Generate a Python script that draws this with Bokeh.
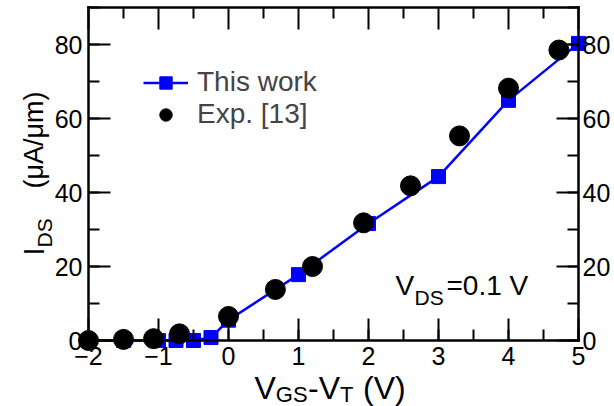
import numpy as np
from bokeh.plotting import figure
from bokeh.models import (Range1d, LinearAxis, SingleIntervalTicker, FixedTicker,
                          Label, Legend, LegendItem)
from bokeh.embed import file_html
from bokeh.resources import INLINE

# ---------------- data ----------------
work_x = [-2, -1.5, -1, -0.75, -0.5, -0.25, 0, 1, 2, 3, 4, 5]
work_y = [0, 0, 0, 0, 0, 0.8, 5.5, 17.8, 31.6, 44.3, 64.9, 80.3]
exp_x = [-2, -1.5, -1.07, -0.7, 0, 0.67, 1.2, 1.93, 2.6, 3.3, 4.0, 4.72]
exp_y = [0, 0.3, 0.5, 1.8, 6.5, 13.8, 20, 31.8, 41.8, 55.3, 68.2, 78.5]
x_ticks = [-2, -1, 0, 1, 2, 3, 4, 5]
y_ticks = [0, 20, 40, 60, 80]
series_names = ["This work", "Exp. [13]"]

X_MIN, X_MAX = -2, 5
Y_MIN, Y_MAX = 0, 90

FONT = "Liberation Sans"
BLUE = "#0000ff"

# canvas layout: the plotting box occupies pixels 88..578 (x) and 7..340 (y)
W, H = 614, 406
BOX_L, BOX_R, BOX_T, BOX_B = 88, 578, 7, 340
px_x = (BOX_R - BOX_L) / (X_MAX - X_MIN)
px_y = (BOX_B - BOX_T) / (Y_MAX - Y_MIN)
x_range = Range1d(X_MIN - BOX_L / px_x, X_MAX + (W - BOX_R) / px_x)
y_range = Range1d(Y_MIN - (H - BOX_B) / px_y, Y_MAX + BOX_T / px_y)

p = figure(width=W, height=H, x_range=x_range, y_range=y_range,
           output_backend="svg", toolbar_location=None, min_border=0)
p.xgrid.visible = False
p.ygrid.visible = False
p.outline_line_color = None
p.background_fill_color = "white"
p.border_fill_color = "white"

def style_axis(ax, major_len=22, minor_len=11):
    ax.axis_line_width = 2.5
    ax.axis_line_color = "black"
    ax.axis_line_cap = "square"
    ax.major_tick_in = major_len
    ax.major_tick_out = 0
    ax.minor_tick_in = minor_len
    ax.minor_tick_out = 0
    ax.major_tick_line_width = 2
    ax.minor_tick_line_width = 2
    ax.major_label_text_font = FONT
    ax.major_label_text_font_size = "25px"
    ax.major_label_text_color = "black"
    ax.major_label_standoff = 5

xt = SingleIntervalTicker(interval=1, num_minor_ticks=2)
yt = SingleIntervalTicker(interval=20, num_minor_ticks=2)

bottom = p.xaxis[0]
bottom.ticker = xt
bottom.fixed_location = Y_MIN
bottom.bounds = (X_MIN, X_MAX)
style_axis(bottom)
bottom.major_label_standoff = 6

left = p.yaxis[0]
left.ticker = yt
left.fixed_location = X_MIN
left.bounds = (Y_MIN, Y_MAX)
style_axis(left)
left.major_label_standoff = 6

right = LinearAxis(ticker=yt, fixed_location=X_MAX, bounds=(Y_MIN, Y_MAX))
style_axis(right)
right.major_label_standoff = 4
p.add_layout(right, "right")

# top: ticks only (no labels)
top_major = LinearAxis(ticker=FixedTicker(ticks=[], minor_ticks=x_ticks),
                       fixed_location=Y_MAX, bounds=(X_MIN, X_MAX))
style_axis(top_major, minor_len=22)
p.add_layout(top_major, "above")
half_ticks = [t + 0.5 for t in x_ticks[:-1]]
top_minor = LinearAxis(ticker=FixedTicker(ticks=[], minor_ticks=half_ticks),
                       fixed_location=Y_MAX, bounds=(X_MIN, X_MAX))
style_axis(top_minor, minor_len=11)
top_minor.axis_line_color = None
p.add_layout(top_minor, "above")

# ---------------- marks ----------------
ln = p.line(work_x, work_y, line_color=BLUE, line_width=2.5)
sq = p.scatter(work_x, work_y, marker="square", size=14, fill_color=BLUE,
               line_color=BLUE)
ci = p.scatter(exp_x, exp_y, marker="circle", size=20, fill_color="black",
               line_color="black")

legend = Legend(items=[LegendItem(label=series_names[0], renderers=[ln, sq]),
                       LegendItem(label=series_names[1], renderers=[ci])],
                location=(143, H - 130), padding=0, margin=0, spacing=0,
                glyph_width=45, glyph_height=31, label_height=31,
                label_standoff=9, label_text_font=FONT,
                label_text_font_size="28px", background_fill_alpha=0,
                border_line_alpha=0)
p.add_layout(legend, "center")

# ---------------- text annotations (canvas px, y measured from top) ----------------
def lab(text, cx, cy, size, angle=0.0):
    p.add_layout(Label(x=cx, y=H - cy, x_units="screen", y_units="screen",
                       text=text, text_font=FONT, text_font_size=f"{size}px",
                       text_color="black", angle=angle,
                       text_baseline="alphabetic", text_align="left"))

# V_DS = 0.1 V
lab("V", 395, 285, 28)
lab("DS", 414, 297, 21)
lab("=0.1 V", 446, 285, 28)

# x-axis label: V_GS - V_T (V)
xl, mb, sb = 254, 387, 394
lab("V", xl, mb, 32)
lab("GS", xl + 21.3, sb, 22)
lab("-", xl + 53.5, mb, 32)
lab("V", xl + 64.2, mb, 32)
lab("T", xl + 85.5, sb, 22)
lab("(V)", xl + 108.5, mb, 32)

# y-axis label: I_DS (μA/μm), rotated
r = np.pi / 2
lab("I", 33, 255, 29, r)
lab("DS", 44, 247, 21, r)
lab("(\u03bcA/\u03bcm)", 33, 188, 27, r)

open("out.html", "w").write(file_html(p, INLINE))
